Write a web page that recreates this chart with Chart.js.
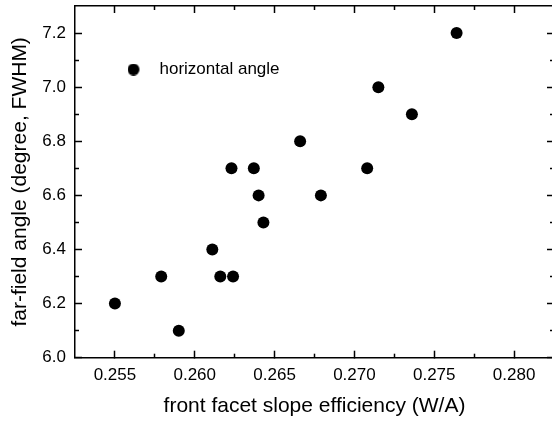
<!DOCTYPE html>
<html>
<head>
<meta charset="utf-8">
<script src="https://cdn.jsdelivr.net/npm/chart.js@4.4.1/dist/chart.umd.min.js"></script>
<style>
html, body { margin: 0; padding: 0; overflow: hidden; background: #fff; width: 552px; height: 423px; }
#wrap { width: 560px; height: 423px; }
</style>
</head>
<body>
<div id="wrap"><canvas id="c" width="560" height="423"></canvas></div>
<script>
// ---- data ----
const slopeEfficiency = [0.2550, 0.2579, 0.2590, 0.2611, 0.2616, 0.2624, 0.2623, 0.2637, 0.2640, 0.2643, 0.2666, 0.2679, 0.2708, 0.2715, 0.2736, 0.2764];
const farFieldAngle   = [6.2,    6.3,    6.1,    6.4,    6.3,    6.3,    6.7,    6.7,    6.6,    6.5,    6.8,    6.6,    6.7,    7.0,    6.9,    7.2];
const seriesName = 'horizontal angle';
const xTitle = 'front facet slope efficiency (W/A)';
const yTitle = 'far-field angle (degree, FWHM)';
const xRange = [0.2525, 0.2825];
const xMajorTicks = [0.255, 0.260, 0.265, 0.270, 0.275, 0.280];
const xMinorTicks = [0.2575, 0.2625, 0.2675, 0.2725, 0.2775];
const yRange = [6.0, 7.3];
const yMajorTicks = [6.0, 6.2, 6.4, 6.6, 6.8, 7.0, 7.2];
const yMinorTicks = [6.1, 6.3, 6.5, 6.7, 6.9, 7.1];

const points = slopeEfficiency.map((x, i) => ({ x: x, y: farFieldAngle[i] }));

Chart.defaults.font.family = '"Liberation Sans", Arial, sans-serif';
Chart.defaults.color = '#000';

// legend marker: filled circle, shifted left inside a wider transparent image
const marker = document.createElement('canvas');
marker.width = 32; marker.height = 12;
(function () {
  const g = marker.getContext('2d');
  g.fillStyle = '#000';
  g.beginPath(); g.arc(6, 6, 6, 0, Math.PI * 2); g.fill();
})();

const AX = '#000';
function majorGrid() { return { drawOnChartArea: false, drawTicks: true, tickLength: -7, tickWidth: 1.5, tickColor: AX }; }
function minorGrid() { return { drawOnChartArea: false, drawTicks: true, tickLength: -4, tickWidth: 1.5, tickColor: AX }; }
const border = { display: true, color: AX, width: 1.5 };
const noBorder = { display: false };

function setTicks(values) {
  return s => { s.ticks = values.map(v => ({ value: v })); };
}
function fixSize(prop, val) {
  return s => {
    s[prop] = val;
    s.paddingTop = 0; s.paddingBottom = 0; s.paddingLeft = 0; s.paddingRight = 0;
  };
}

new Chart(document.getElementById('c'), {
  type: 'scatter',
  data: {
    datasets: [{
      label: seriesName,
      data: points,
      pointRadius: 6,
      pointHoverRadius: 6,
      pointBackgroundColor: '#000',
      pointBorderWidth: 0,
      pointStyle: 'circle',
      showLine: false
    }]
  },
  options: {
    responsive: false,
    animation: false,
    devicePixelRatio: 1,
    events: [],
    layout: { padding: 0 },
    plugins: {
      tooltip: { enabled: false },
      legend: {
        position: 'chartArea',
        align: 'start',
        labels: { usePointStyle: true, pointStyle: marker, boxWidth: 15, padding: 61, color: '#000', font: { size: 17 } }
      }
    },
    scales: {
      x: {
        type: 'linear', position: 'bottom', weight: 10,
        min: xRange[0], max: xRange[1],
        afterBuildTicks: setTicks(xMajorTicks),
        afterFit: fixSize('height', 65.3),
        ticks: { autoSkip: false, maxRotation: 0, padding: 14, color: '#000', font: { size: 17 }, callback: v => v.toFixed(3) },
        grid: majorGrid(),
        border: border,
        title: { display: true, text: xTitle, color: '#000', font: { size: 21 }, padding: { top: 0, bottom: 4 } }
      },
      xMinor: {
        type: 'linear', position: 'bottom', weight: 0,
        min: xRange[0], max: xRange[1],
        afterBuildTicks: setTicks(xMinorTicks),
        afterFit: fixSize('height', 0),
        ticks: { display: false, autoSkip: false },
        grid: minorGrid(),
        border: noBorder
      },
      xTop: {
        type: 'linear', position: 'top', weight: 10,
        min: xRange[0], max: xRange[1],
        afterBuildTicks: setTicks(xMajorTicks),
        afterFit: fixSize('height', 4.5),
        ticks: { display: false, autoSkip: false },
        grid: majorGrid(),
        border: border
      },
      xTopMinor: {
        type: 'linear', position: 'top', weight: 0,
        min: xRange[0], max: xRange[1],
        afterBuildTicks: setTicks(xMinorTicks),
        afterFit: fixSize('height', 0),
        ticks: { display: false, autoSkip: false },
        grid: minorGrid(),
        border: noBorder
      },
      y: {
        type: 'linear', position: 'left', weight: 10,
        min: yRange[0], max: yRange[1],
        afterBuildTicks: setTicks(yMajorTicks),
        afterFit: fixSize('width', 75),
        ticks: { autoSkip: false, padding: 16, color: '#000', font: { size: 17 }, callback: v => v.toFixed(1) },
        grid: majorGrid(),
        border: border,
        title: { display: true, text: yTitle, color: '#000', font: { size: 21 }, padding: { top: 8, bottom: 0 } }
      },
      yMinor: {
        type: 'linear', position: 'left', weight: 0,
        min: yRange[0], max: yRange[1],
        afterBuildTicks: setTicks(yMinorTicks),
        afterFit: fixSize('width', 0),
        ticks: { display: false, autoSkip: false },
        grid: minorGrid(),
        border: noBorder
      },
      yRight: {
        type: 'linear', position: 'right', weight: 10,
        min: yRange[0], max: yRange[1],
        afterBuildTicks: setTicks(yMajorTicks),
        afterFit: fixSize('width', 3),
        ticks: { display: false, autoSkip: false },
        grid: majorGrid(),
        border: border
      },
      yRightMinor: {
        type: 'linear', position: 'right', weight: 0,
        min: yRange[0], max: yRange[1],
        afterBuildTicks: setTicks(yMinorTicks),
        afterFit: fixSize('width', 0),
        ticks: { display: false, autoSkip: false },
        grid: minorGrid(),
        border: noBorder
      }
    }
  }
});
</script>
</body>
</html>
